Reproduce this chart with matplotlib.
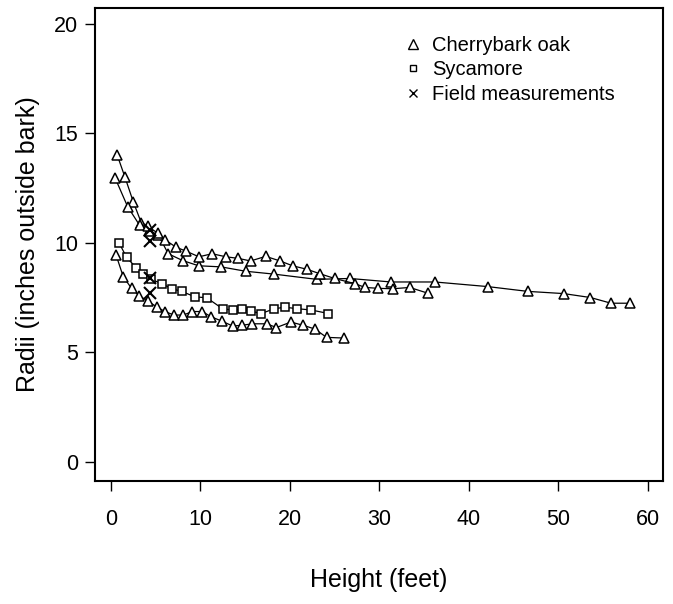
import matplotlib
matplotlib.use("Agg")
import matplotlib.pyplot as plt

plt.rcParams['font.family'] = ['Liberation Sans', 'DejaVu Sans']

# Cherrybark oak, tree 1 (tallest)
oak1_x = [0.7, 1.56, 2.5, 3.4, 4.3, 5.3, 6.4, 8.0, 9.8, 12.3, 15.05, 18.2, 23.0, 26.7, 31.3, 36.2, 42.1, 46.6, 50.6, 53.6, 55.9, 58.0]
oak1_y = [14.0, 13.0, 11.86, 10.9, 10.55, 10.35, 9.5, 9.19, 8.95, 8.9, 8.7, 8.57, 8.33, 8.37, 8.21, 8.21, 8.0, 7.78, 7.68, 7.5, 7.24, 7.24]

# Cherrybark oak, tree 2
oak2_x = [0.45, 1.86, 3.2, 4.1, 5.2, 6.0, 7.26, 8.38, 9.83, 11.3, 12.85, 14.2, 15.6, 17.3, 18.9, 20.3, 21.9, 23.4, 25.0, 27.3, 28.4, 29.9, 31.5, 33.4, 35.4]
oak2_y = [12.97, 11.65, 10.8, 10.75, 10.45, 10.15, 9.8, 9.62, 9.36, 9.5, 9.36, 9.29, 9.17, 9.38, 9.17, 8.95, 8.79, 8.58, 8.37, 8.13, 7.96, 7.92, 7.9, 7.96, 7.7]

# Cherrybark oak, tree 3
oak3_x = [0.56, 1.38, 2.3, 3.16, 4.17, 5.17, 6.03, 7.04, 8.08, 9.1, 10.2, 11.2, 12.4, 13.6, 14.6, 15.8, 17.4, 18.5, 20.1, 21.5, 22.8, 24.1, 26.0]
oak3_y = [9.45, 8.44, 7.92, 7.58, 7.32, 7.06, 6.86, 6.7, 6.7, 6.86, 6.86, 6.62, 6.42, 6.2, 6.23, 6.3, 6.3, 6.13, 6.38, 6.23, 6.06, 5.68, 5.65]

# Sycamore
syc_x = [0.9, 1.75, 2.8, 3.6, 4.47, 5.66, 6.78, 7.9, 9.4, 10.7, 12.5, 13.6, 14.6, 15.6, 16.8, 18.2, 19.4, 20.8, 22.4, 24.3]
syc_y = [10.0, 9.33, 8.87, 8.57, 8.33, 8.14, 7.9, 7.78, 7.53, 7.49, 6.98, 6.93, 6.96, 6.88, 6.77, 6.98, 7.06, 6.99, 6.93, 6.77]

# Field measurements
field_x = [4.4, 4.4, 4.4, 4.4]
field_y = [10.6, 10.1, 8.4, 7.7]

legend_labels = ["Cherrybark oak", "Sycamore", "Field measurements"]
xticks = [0, 10, 20, 30, 40, 50, 60]
yticks = [0, 5, 10, 15, 20]

fig = plt.figure(figsize=(6.73, 6.04), dpi=100)
ax = fig.add_axes([0.141, 0.204, 0.844, 0.783])

tri = dict(marker='^', markersize=7.5, markerfacecolor='white', markeredgecolor='black',
           markeredgewidth=1.1, color='black', linewidth=0.9)
sq = dict(marker='s', markersize=5.5, markerfacecolor='white', markeredgecolor='black',
          markeredgewidth=1.1, color='black', linewidth=0.9)

ax.plot(oak1_x, oak1_y, **tri)
ax.plot(oak2_x, oak2_y, **tri)
ax.plot(oak3_x, oak3_y, **tri)
ax.plot(syc_x, syc_y, **sq)
ax.plot(field_x, field_y, linestyle='none', marker='x', markersize=8,
        markeredgewidth=1.5, color='black')

ax.set_xlim(-1.8, 61.7)
ax.set_ylim(-0.87, 20.73)
ax.set_xticks(xticks)
ax.set_yticks(yticks)
ax.tick_params(labelsize=15.5, length=7, width=1.0, direction='out')
ax.tick_params(axis='x', pad=13)
ax.tick_params(axis='y', pad=5)
for s in ax.spines.values():
    s.set_linewidth(1.5)
ax.set_xlabel("Height (feet)", fontsize=18, labelpad=28)
ax.set_ylabel("Radii (inches outside bark)", fontsize=18, labelpad=10)

h1, = ax.plot([], [], linestyle='none', marker='^', markersize=7, markerfacecolor='white',
              markeredgecolor='black', markeredgewidth=1.0)
h2, = ax.plot([], [], linestyle='none', marker='s', markersize=5, markerfacecolor='white',
              markeredgecolor='black', markeredgewidth=1.0)
h3, = ax.plot([], [], linestyle='none', marker='x', markersize=6, markeredgewidth=1.0,
              color='black')
ax.legend([h1, h2, h3], legend_labels, loc='upper left', bbox_to_anchor=(0.524, 0.958),
          frameon=False, fontsize=14.5, handletextpad=0.35, labelspacing=0.27,
          handlelength=1.2, borderaxespad=0)

fig.savefig("out.png", dpi=100)
